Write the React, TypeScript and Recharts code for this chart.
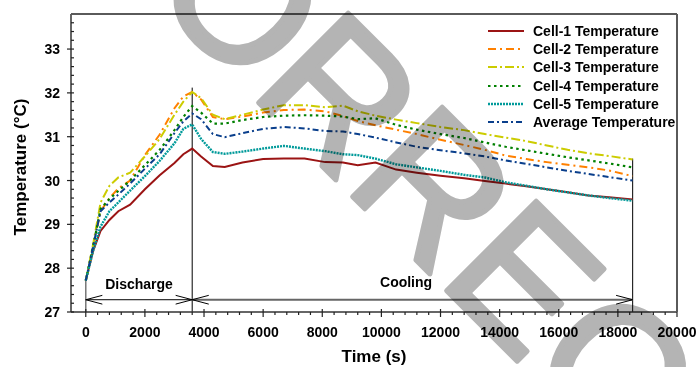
import React from 'react';
import { LineChart, Line, XAxis, YAxis, ReferenceLine, ReferenceDot, Legend } from 'recharts';

const times = [0, 250, 500, 800, 1100, 1500, 2000, 2500, 3000, 3300, 3600, 3900, 4300, 4700, 5300, 6000, 6700, 7400, 8100, 8700, 9200, 9800, 10500, 11200, 12000, 12800, 13500, 14200, 14900, 15600, 16300, 17000, 17700, 18500];
const cell1 = [27.72, 28.4, 28.85, 29.1, 29.3, 29.45, 29.8, 30.12, 30.4, 30.6, 30.73, 30.55, 30.33, 30.31, 30.41, 30.49, 30.5, 30.5, 30.42, 30.41, 30.35, 30.41, 30.25, 30.18, 30.11, 30.05, 29.99, 29.93, 29.87, 29.8, 29.73, 29.66, 29.62, 29.57];
const cell2 = [27.72, 28.5, 29.3, 29.6, 29.82, 30.0, 30.58, 31.05, 31.65, 31.92, 32.02, 31.85, 31.45, 31.4, 31.46, 31.55, 31.61, 31.62, 31.58, 31.47, 31.36, 31.26, 31.16, 31.06, 30.93, 30.81, 30.7, 30.57, 30.49, 30.42, 30.36, 30.3, 30.23, 30.1];
const cell3 = [27.72, 28.55, 29.5, 29.88, 30.07, 30.18, 30.55, 30.95, 31.5, 31.8, 32.02, 31.88, 31.5, 31.4, 31.5, 31.62, 31.72, 31.72, 31.67, 31.71, 31.58, 31.48, 31.39, 31.31, 31.22, 31.15, 31.06, 30.98, 30.9, 30.8, 30.7, 30.62, 30.56, 30.48];
const cell4 = [27.72, 28.5, 29.35, 29.58, 29.76, 30.0, 30.35, 30.7, 31.15, 31.45, 31.7, 31.55, 31.3, 31.3, 31.38, 31.45, 31.48, 31.49, 31.48, 31.46, 31.4, 31.42, 31.27, 31.16, 31.06, 30.97, 30.87, 30.77, 30.69, 30.61, 30.53, 30.46, 30.39, 30.3];
const cell5 = [27.72, 28.4, 28.95, 29.3, 29.5, 29.77, 30.1, 30.45, 30.85, 31.18, 31.28, 30.95, 30.65, 30.61, 30.66, 30.73, 30.79, 30.73, 30.67, 30.6, 30.58, 30.5, 30.37, 30.3, 30.22, 30.13, 30.07, 29.96, 29.88, 29.8, 29.73, 29.66, 29.6, 29.54];
const average = [27.72, 28.5, 29.3, 29.5, 29.68, 29.93, 30.27, 30.6, 31.08, 31.35, 31.53, 31.4, 31.06, 30.99, 31.08, 31.18, 31.22, 31.19, 31.13, 31.12, 31.06, 30.98, 30.87, 30.77, 30.69, 30.62, 30.55, 30.46, 30.38, 30.3, 30.22, 30.15, 30.08, 30.0];

const seriesNames = ['Cell-1 Temperature', 'Cell-2 Temperature', 'Cell-3 Temperature', 'Cell-4 Temperature', 'Cell-5 Temperature', 'Average Temperature'];
const seriesKeys = ['c1', 'c2', 'c3', 'c4', 'c5', 'avg'];

const xMajorTicks = [0, 2000, 4000, 6000, 8000, 10000, 12000, 14000, 16000, 18000, 20000];
const yMajorTicks = [27, 28, 29, 30, 31, 32, 33];
const xAllTicks = Array.from({ length: 51 }, (_, i) => i * 400);
const yAllTicks = Array.from({ length: 35 }, (_, i) => +(27 + i * 0.2).toFixed(1));

const xMin = -500;
const xMax = 20000;
const yMin = 27;
const yMax = 33.8;

const dischargeEnd = 3600;
const coolingEnd = 18500;
const arrowLevel = 27.28;
const dischargeTop = 32.12;
const coolingTop = 30.5;
const startTemp = 27.72;

const data = times.map((t, i) => ({ t, c1: cell1[i], c2: cell2[i], c3: cell3[i], c4: cell4[i], c5: cell5[i], avg: average[i] }));

const styles = [
  { color: '#9b1414', dash: undefined, width: 2 },
  { color: '#ff8000', dash: '8 4 2 4', width: 2 },
  { color: '#cccc00', dash: '9 3 2 3', width: 2 },
  { color: '#008000', dash: '2.5 3.5', width: 2.2 },
  { color: '#009a9a', dash: '2 1', width: 2.4 },
  { color: '#0a3f8c', dash: '6 3 2 3', width: 2 },
];

const FONT = 'Liberation Sans, Arial, Helvetica, sans-serif';

const W = 696;
const H = 367;
const M_TOP = 14;
const M_RIGHT = 19;
const Y_AXIS_W = 71;
const X_AXIS_H = 55;

const XTick = (props: any) => {
  const { x, y, payload } = props;
  const v = payload.value;
  const major = xMajorTicks.includes(v);
  return (
    <g>
      <line x1={x} x2={x} y1={major ? y - 3 : y} y2={major ? y + 5 : y + 3} stroke="#222" strokeWidth={1.2} />
      {major && (
        <text x={x} y={y + 25} textAnchor="middle" fontFamily={FONT} fontWeight="bold" fontSize={14} fill="#000">{v}</text>
      )}
    </g>
  );
};

const YTick = (props: any) => {
  const { x, y, payload } = props;
  const v = payload.value;
  const major = yMajorTicks.some((m) => Math.abs(m - v) < 1e-6);
  return (
    <g>
      <line x1={major ? x - 4 : x} x2={x + 3} y1={y} y2={y} stroke="#222" strokeWidth={1.2} />
      {major && (
        <text x={x - 11} y={y + 5} textAnchor="end" fontFamily={FONT} fontWeight="bold" fontSize={14} fill="#000">{v}</text>
      )}
    </g>
  );
};

const YTitle = (props: any) => {
  const vb = props.viewBox || { y: 13, height: 298 };
  const cy = vb.y + vb.height / 2 + 4;
  return (
    <text transform={`translate(20, ${cy}) rotate(-90)`} textAnchor="middle" dominantBaseline="central" fontFamily={FONT} fontWeight="bold" fontSize={17} fill="#000">Temperature (°C)</text>
  );
};

const XTitle = (props: any) => {
  const vb = props.viewBox || { x: 71, width: 605 };
  return (
    <text x={vb.x + vb.width / 2} y={362} textAnchor="middle" fontFamily={FONT} fontWeight="bold" fontSize={17} fill="#000">Time (s)</text>
  );
};

const makeLabel = (txt: string) => (props: any) => {
  const vb = props.viewBox;
  return (
    <text x={vb.x + (vb.width || 0) / 2} y={vb.y + (vb.height || 0) / 2} textAnchor="middle" dominantBaseline="central" fontFamily={FONT} fontWeight="bold" fontSize={14} fill="#000">{txt}</text>
  );
};

const LegendContent = () => (
  <div style={{ fontFamily: FONT, fontWeight: 'bold', fontSize: 14, color: '#000' }}>
    {seriesNames.map((n, i) => (
      <div key={n} style={{ display: 'flex', alignItems: 'center', height: 18.3, whiteSpace: 'nowrap' }}>
        <svg width={38} height={10} style={{ marginRight: 8 }}>
          <line x1={1} x2={37} y1={5} y2={5} stroke={styles[i].color} strokeWidth={styles[i].width} strokeDasharray={styles[i].dash} />
        </svg>
        <span>{n}</span>
      </div>
    ))}
  </div>
);

const frameRight = W - M_RIGHT;
const frameBottom = H - X_AXIS_H;

const Frame = () => (
  <svg width={W} height={H} style={{ position: 'absolute', left: 0, top: 0, pointerEvents: 'none', zIndex: 5 }}>
    <line x1={Y_AXIS_W} y1={M_TOP} x2={frameRight} y2={M_TOP} stroke="#5a5a5a" strokeWidth={2} />
    <line x1={frameRight} y1={M_TOP} x2={frameRight} y2={frameBottom} stroke="#5a5a5a" strokeWidth={2} />
  </svg>
);

const Watermark = () => (
  <svg width={W} height={H} style={{ position: 'absolute', left: 0, top: 0, pointerEvents: 'none', mixBlendMode: 'multiply', zIndex: 6 }}>
    <g transform="translate(436, 280) rotate(45)" fontFamily={FONT} fontSize={184} fill="#b4b4b4" stroke="#b4b4b4" strokeWidth={5} strokeLinejoin="round">
      <text x={0} y={0} textAnchor="end">UNCORR</text>
      <text x={0} y={0} textAnchor="start">ECTED PROOF</text>
    </g>
  </svg>
);

const hx = 560;
const hy = 0.1;

export default function App() {
  return (
    <div style={{ position: 'absolute', left: 0, top: 0, width: W, height: H, background: '#fff' }}>
      <LineChart width={W} height={H} data={data} margin={{ top: M_TOP, right: M_RIGHT, bottom: 0, left: 0 }}>
        <XAxis dataKey="t" type="number" domain={[xMin, xMax]} ticks={xAllTicks} interval={0} tick={<XTick />} tickSize={0} tickMargin={0} tickLine={false} axisLine={{ stroke: '#333', strokeWidth: 1.5 }} height={X_AXIS_H} label={XTitle} allowDataOverflow />
        <YAxis type="number" domain={[yMin, yMax]} ticks={yAllTicks} interval={0} tick={<YTick />} tickSize={0} tickMargin={0} tickLine={false} axisLine={{ stroke: '#333', strokeWidth: 1.5 }} width={Y_AXIS_W} label={YTitle} allowDataOverflow />
        <ReferenceLine segment={[{ x: 0, y: yMin }, { x: 0, y: startTemp }]} stroke="#777" strokeWidth={1.5} />
        <ReferenceLine segment={[{ x: dischargeEnd, y: yMin }, { x: dischargeEnd, y: dischargeTop }]} stroke="#000" strokeWidth={1} />
        <ReferenceLine segment={[{ x: coolingEnd, y: yMin }, { x: coolingEnd, y: coolingTop }]} stroke="#000" strokeWidth={1} />
        <ReferenceLine segment={[{ x: 0, y: arrowLevel }, { x: dischargeEnd, y: arrowLevel }]} stroke="#000" strokeWidth={1} />
        <ReferenceLine segment={[{ x: dischargeEnd, y: arrowLevel }, { x: coolingEnd, y: arrowLevel }]} stroke="#666" strokeWidth={1.8} />
        <ReferenceLine segment={[{ x: 0, y: arrowLevel }, { x: hx, y: arrowLevel + hy }]} stroke="#000" strokeWidth={1} />
        <ReferenceLine segment={[{ x: 0, y: arrowLevel }, { x: hx, y: arrowLevel - hy }]} stroke="#000" strokeWidth={1} />
        <ReferenceLine segment={[{ x: dischargeEnd, y: arrowLevel }, { x: dischargeEnd - hx, y: arrowLevel + hy }]} stroke="#000" strokeWidth={1} />
        <ReferenceLine segment={[{ x: dischargeEnd, y: arrowLevel }, { x: dischargeEnd - hx, y: arrowLevel - hy }]} stroke="#000" strokeWidth={1} />
        <ReferenceLine segment={[{ x: dischargeEnd, y: arrowLevel }, { x: dischargeEnd + hx, y: arrowLevel + hy }]} stroke="#000" strokeWidth={1} />
        <ReferenceLine segment={[{ x: dischargeEnd, y: arrowLevel }, { x: dischargeEnd + hx, y: arrowLevel - hy }]} stroke="#000" strokeWidth={1} />
        <ReferenceLine segment={[{ x: coolingEnd, y: arrowLevel }, { x: coolingEnd - hx, y: arrowLevel + hy }]} stroke="#000" strokeWidth={1} />
        <ReferenceLine segment={[{ x: coolingEnd, y: arrowLevel }, { x: coolingEnd - hx, y: arrowLevel - hy }]} stroke="#000" strokeWidth={1} />
        <ReferenceDot x={1800} y={27.645} r={0} fill="none" stroke="none" label={makeLabel('Discharge')} />
        <ReferenceDot x={10835} y={27.68} r={0} fill="none" stroke="none" label={makeLabel('Cooling')} />
        {seriesKeys.map((k, i) => (
          <Line key={k} type="linear" dataKey={k} name={seriesNames[i]} stroke={styles[i].color} strokeWidth={styles[i].width} strokeDasharray={styles[i].dash} dot={false} activeDot={false} isAnimationActive={false} />
        ))}
        <Legend layout="vertical" align="center" verticalAlign="middle" wrapperStyle={{ top: 21.5, left: 487, width: 205, bottom: 'auto', right: 'auto' }} content={<LegendContent />} />
      </LineChart>
      <Frame />
      <Watermark />
    </div>
  );
}
